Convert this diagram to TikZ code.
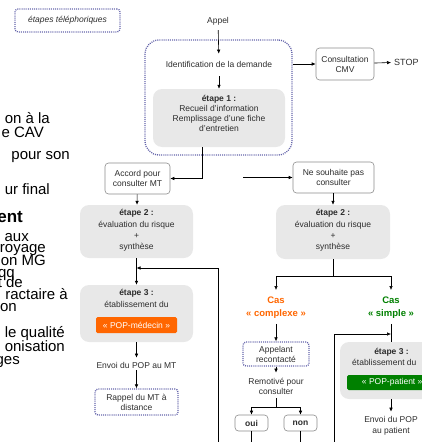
\documentclass[tikz,border=0pt]{standalone}
\usepackage{fontspec}
\setmainfont{Liberation Sans}
\usetikzlibrary{arrows.meta}
\definecolor{boxgray}{RGB}{232,232,232}
\definecolor{dotcol}{RGB}{100,100,170}
\definecolor{txtcol}{RGB}{45,45,45}
\definecolor{popor}{RGB}{255,102,0}
\definecolor{popgr}{RGB}{0,128,0}
\begin{document}
\begin{tikzpicture}[x=1pt,y=-1pt,
  sm/.style={font=\fontsize{8.5}{10}\selectfont, text=txtcol, inner sep=0pt, align=center},
  smw/.style={font=\fontsize{8.5}{11.3}\selectfont, text=txtcol, inner sep=0pt, align=center},
  big/.style={font=\fontsize{15}{15}\selectfont, inner sep=0pt, anchor=base east, text=black},
  gbox/.style={fill=boxgray, rounded corners=9pt, inner sep=0pt},
  wbox/.style={draw=black!45, fill=white, rounded corners=3.5pt, line width=0.6pt, inner sep=0pt,
               font=\fontsize{8.5}{10}\selectfont, text=txtcol, align=center},
  dbox/.style={draw=dotcol, line width=1.3pt, dash pattern=on 1pt off 1.1pt, rounded corners=3pt,
               inner sep=0pt, font=\fontsize{8.5}{10}\selectfont, text=txtcol, align=center},
  popbox/.style={rounded corners=1.5pt, inner sep=0pt, text=white, font=\fontsize{8.5}{10}\selectfont},
  cas/.style={font=\fontsize{9.5}{13.5}\selectfont\bfseries, inner sep=0pt, align=center},
  arr/.style={-{Latex[length=4pt,width=3.6pt]}, line width=0.6pt},
  ln/.style={line width=0.6pt}]
\useasboundingbox (0,0) rectangle (422,442);
\clip (0,0) rectangle (422,442);

% left slide text (cut off)
\node[big] (l1) at (50,123) {on à la};
\node[big] (l2) at (44,137.5) {e CAV};
\node[big] (l3) at (70,159) {pour son};
\node[big] (l4) at (50,194) {ur final};
\node[big, font=\fontsize{17}{17}\selectfont\bfseries] (l5) at (23,222) {ent};
\node[big] (l6) at (29,241) {aux};
\node[big] (l7) at (46,252) {royage};
\node[big] (l8) at (46,265) {on MG};
\node[big] (l9) at (15,277) {qq};
\node[big] (l10) at (23,287) {t de};
\node[big] (l11) at (68,299) {ractaire à};
\node[big] (l12) at (17,311) {on};
\node[big] (l13) at (65,337) {le qualité};
\node[big] (l14) at (65,351) {onisation};
\node[big] (l15) at (20,364) {ges};

% legend
\node[dbox, minimum width=105pt, minimum height=23pt] (leg) at (67.5,20.5) {};
\node[sm, font=\fontsize{8.5}{10}\selectfont\itshape] (legt) at (67.5,20.5) {étapes téléphoriques};

% top part
\node[sm] (appel) at (218,21) {Appel};
\node[dbox, rounded corners=14pt, minimum width=147pt, minimum height=115pt] (grp) at (218.5,97.5) {};
\node[sm] (ident) at (219,64) {Identification de la demande};
\node[gbox, minimum width=132pt, minimum height=58pt] (e1) at (219,118) {};
\node[sm] (e1t) at (219,113.5) {\textbf{étape 1 :}\\Recueil d'information\\Remplissage d'une fiche\\d'entretien};
\node[wbox, minimum width=58pt, minimum height=32pt] (cmv) at (345,64) {Consultation\\CMV};
\node[sm, anchor=west, font=\fontsize{9}{10}\selectfont] (stop) at (394,62) {STOP};

\draw[arr, shorten <=5pt, shorten >=7pt] (appel) -- (ident);
\draw[arr, shorten <=9pt] (ident) -- (e1);
\draw[arr] (cmv.west -| grp.east) -- (cmv.west);
\draw[arr, shorten >=3pt] (cmv) -- (stop);

% branch
\node[wbox, minimum width=65pt, minimum height=31pt] (acc) at (137.5,178.5) {Accord pour\\consulter MT};
\node[wbox, minimum width=81pt, minimum height=31pt] (ns) at (333.5,177.5) {Ne souhaite pas\\consulter};
\coordinate (s1) at (202,178.5);
\coordinate (s2) at (243,177.5);
\draw[arr] (e1.south -| s1) -- (s1) -- (acc.east);
\draw[arr] (s2) -- (ns.west);

% left column
\node[gbox, minimum width=113pt, minimum height=53pt] (e2l) at (136.5,231.5) {};
\node[smw] (e2lt) at (136.5,230.5) {\textbf{étape 2 :}\\évaluation du risque\\+\\synthèse};
\draw[arr] (acc) -- (e2l);
\node[gbox, minimum width=113pt, minimum height=57pt] (e3l) at (136.5,313.5) {};
\node[smw] (e3lt) at (136.5,298.5) {\textbf{étape 3 :}\\établissement du};
\node[popbox, fill=popor, minimum width=81pt, minimum height=16pt] (popm) at (136.5,325) {« POP-médecin »};
\draw[arr] (e2l) -- (e3l);
\node[sm] (envm) at (136.5,365) {Envoi du POP au MT};
\draw[arr, shorten >=4pt] (e3l) -- (envm);
\node[dbox, minimum width=83pt, minimum height=26pt] (rap) at (136.5,402) {Rappel du MT à\\distance};
\draw[arr, shorten <=2pt] (envm) -- (rap);
\coordinate (lb) at (218,442);
\coordinate (lt) at (218,268);
\draw[arr] (lb) -- (lt) -- (e2l.south |- lt);

% right column
\node[gbox, minimum width=114pt, minimum height=54pt] (e2r) at (333,232) {};
\node[smw] (e2rt) at (333,230.5) {\textbf{étape 2 :}\\évaluation du risque\\+\\synthèse};
\draw[arr] (ns.south -| e2r) -- (e2r);
\coordinate (sp) at (333,276);
\coordinate (tc) at (276,290);
\coordinate (ts) at (391,290);
\draw[arr] (e2r.south) -- (sp) -| (tc);
\draw[arr] (sp) -| (ts);
\node[cas, text=popor] (casc) at (276,307.5) {Cas\\« complexe »};
\node[cas, text=popgr] (cass) at (391,307.5) {Cas\\« simple »};

\node[dbox, minimum width=66pt, minimum height=24pt] (app) at (276,354) {Appelant\\recontacté};
\draw[arr, shorten <=5pt] (casc) -- (app);
\node[sm] (rem) at (276,386) {Remotivé pour\\consulter};
\draw[arr, shorten >=5pt] (app) -- (rem);
\coordinate (sp2) at (276,407);
\draw[ln, shorten <=4pt] (rem) -- (sp2);
\node[wbox, minimum width=33pt, minimum height=16pt, font=\fontsize{8.5}{10}\selectfont\bfseries] (oui) at (251.5,423) {oui};
\node[wbox, minimum width=33pt, minimum height=16pt, font=\fontsize{8.5}{10}\selectfont\bfseries] (non) at (300.5,423) {non};
\draw[arr] (sp2) -| (oui);
\draw[arr] (sp2) -| (non);
\coordinate (ob) at (251.5,442);
\coordinate (nb) at (300.5,442);
\draw[ln] (oui) -- (ob);
\draw[ln] (non) -- (nb);

\node[gbox, minimum width=110pt, minimum height=57pt] (e3r) at (395,370.5) {};
\node[sm] (e3rt1) at (391.5,352) {\textbf{étape 3 :}};
\node[sm, anchor=west] (e3rt2) at (352,362.5) {établissement du};
\node[popbox, fill=popgr, minimum width=90pt, minimum height=15pt, anchor=west] (popp) at (347,382.5) {« POP-patient »};
\draw[ln, shorten <=5pt] (cass) -- (cass |- e3r.north);
\coordinate (rb) at (334,442);
\coordinate (rt) at (334,334);
\draw[arr] (rb) -- (rt) -- (rt -| cass);
\node[smw] (envp) at (391,425.5) {Envoi du POP\\au patient};
\draw[arr, shorten >=4pt] (e3r.south -| envp) -- (envp);
\end{tikzpicture}
\end{document}
